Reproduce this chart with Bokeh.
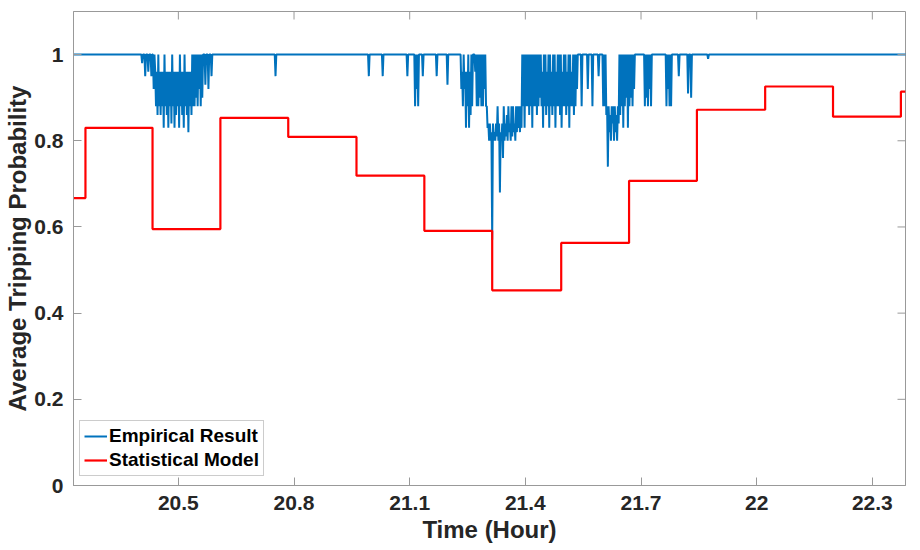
import numpy as np
from bokeh.plotting import figure
from bokeh.models import FixedTicker, Range1d, Legend, LegendItem
from bokeh.embed import file_html
from bokeh.resources import INLINE

# ---------------- data ----------------
x_ticks = [20.5, 20.8, 21.1, 21.4, 21.7, 22.0, 22.3]
x_tick_labels = ["20.5", "20.8", "21.1", "21.4", "21.7", "22", "22.3"]
y_ticks = [0.0, 0.2, 0.4, 0.6, 0.8, 1.0]
y_tick_labels = ["0", "0.2", "0.4", "0.6", "0.8", "1"]
x_min, x_max = 20.228, 22.386
y_min, y_max = 0.0, 1.1

# statistical model: piecewise-constant levels (start time of each step, level)
model_t = [20.228, 20.259, 20.433, 20.609, 20.785, 20.962, 21.138, 21.314,
           21.493, 21.669, 21.845, 22.022, 22.198, 22.374, 22.386]
model_v = [0.667, 0.830, 0.595, 0.853, 0.809, 0.719, 0.591, 0.453,
           0.563, 0.707, 0.872, 0.926, 0.856, 0.914, 0.914]

# empirical result: sampled series (baseline 1 with dips).
# dense stretches are given per 0.004 h bin as (high, low) pairs
emp_t0, emp_t1, emp_dt = 20.228, 22.388, 0.002
emp_base = 1.0

emp_a_start = 20.440
emp_a_hi = [0.96, 0.96, 1.00, 0.96, 0.96, 0.96, 1.00, 0.96, 0.96, 0.96,
            0.96, 1.00, 0.96, 0.96, 0.96, 0.96, 1.00, 0.96, 0.96, 1.00,
            0.96, 0.96, 0.96, 0.96, 1.00, 1.00, 1.00, 1.00, 1.00, 1.00]
emp_a_lo = [0.88, 0.86, 0.88, 0.86, 0.88, 0.83, 0.88, 0.86, 0.83, 0.88,
            0.84, 0.88, 0.83, 0.86, 0.88, 0.83, 0.88, 0.86, 0.83, 0.88,
            0.86, 0.82, 0.88, 0.86, 0.88, 0.88, 0.90, 0.88, 0.92, 0.88]

emp_c_start = 21.232
emp_c_hi = [1.00, 0.96, 1.00, 0.96, 0.96, 1.00, 0.96, 1.00,
            1.00, 1.00,
            1.00, 1.00, 1.00, 1.00, 1.00, 1.00, 1.00,
            0.88, 0.84, 0.84,
            0.82,
            0.84, 0.82, 0.84, 0.88, 0.84, 0.82, 0.84, 0.88, 0.84, 0.86,
            0.88, 0.84, 0.88, 0.88, 0.84, 0.88, 0.88, 0.88, 0.88,
            1.00, 1.00, 1.00, 1.00, 1.00, 1.00, 1.00, 1.00, 1.00, 1.00,
            1.00, 1.00,
            1.00, 0.96, 1.00, 1.00, 0.96, 1.00, 1.00, 0.96, 1.00, 1.00,
            0.96, 1.00, 1.00, 1.00, 0.96, 1.00, 1.00, 0.96, 1.00, 1.00,
            0.96, 1.00, 1.00, 1.00,
            1.00, 1.00, 1.00, 1.00, 1.00, 1.00, 1.00, 1.00, 1.00, 1.00,
            1.00, 1.00, 1.00, 1.00, 1.00, 1.00, 1.00, 1.00, 1.00,
            0.88, 0.88, 0.86, 0.88, 0.88, 0.88, 0.86, 0.88, 1.00,
            1.00, 1.00, 1.00, 1.00, 1.00, 1.00, 1.00, 1.00, 1.00, 1.00,
            1.00]
emp_c_lo = [0.92, 0.88, 0.92, 0.83, 0.88, 0.83, 0.86, 0.88,
            1.00, 0.96,
            0.88, 0.88, 0.90, 0.88, 0.88, 0.92, 0.88,
            0.83, 0.80, 0.80,
            0.57,
            0.80, 0.80, 0.81, 0.80, 0.68, 0.80, 0.76, 0.80, 0.81, 0.80,
            0.82, 0.80, 0.81, 0.82, 0.80, 0.82, 0.83, 0.82, 0.83,
            0.88, 0.83, 0.88, 0.88, 0.86, 0.88, 0.83, 0.88, 0.88, 0.86,
            0.88, 0.90,
            0.88, 0.83, 0.88, 0.86, 0.88, 0.83, 0.88, 0.86, 0.88, 0.83,
            0.88, 0.88, 0.86, 0.83, 0.88, 0.88, 0.86, 0.88, 0.83, 0.88,
            0.88, 0.86, 0.88, 0.92,
            1.00, 1.00, 0.88, 1.00, 1.00, 1.00, 0.92, 1.00, 1.00, 0.88,
            1.00, 1.00, 1.00, 0.95, 1.00, 1.00, 0.88, 0.88, 0.86,
            0.74, 0.82, 0.80, 0.84, 0.80, 0.82, 0.80, 0.84, 0.86,
            0.88, 0.83, 0.88, 0.90, 0.83, 0.88, 0.90, 0.88, 0.92, 1.00,
            1.00]

emp_spike_t = [20.406, 20.414, 20.422, 20.430, 20.436,
               20.562, 20.570, 20.578, 20.586,
               20.752,
               20.994, 21.030, 21.094, 21.114, 21.118, 21.122, 21.134,
               21.170, 21.198,
               21.710, 21.714, 21.718, 21.722, 21.726, 21.766, 21.770,
               21.774, 21.778, 21.798, 21.822, 21.830, 21.874]
emp_spike_v = [0.98, 0.95, 0.96, 0.95, 0.92,
               0.90, 0.93, 0.92, 0.95,
               0.95,
               0.95, 0.95, 0.95, 0.88, 0.92, 0.88, 0.95,
               0.95, 0.93,
               0.88, 0.90, 0.88, 0.92, 0.88, 0.88, 0.92,
               0.88, 0.88, 0.95, 0.91, 0.90, 0.99]

# assemble the empirical series on its sampling grid
n = int(round((emp_t1 - emp_t0) / emp_dt)) + 1
emp_t = emp_t0 + emp_dt * np.arange(n)
emp_v = np.full(n, emp_base)


def put(t, vals):
    k = int(round((t - emp_t0) / emp_dt))
    emp_v[k:k + len(vals)] = vals


def put_pairs(t, hi, lo):
    put(t, [v for pair in zip(hi, lo) for v in pair])


put_pairs(emp_a_start, emp_a_hi, emp_a_lo)
put_pairs(emp_c_start, emp_c_hi, emp_c_lo)
for t, v in zip(emp_spike_t, emp_spike_v):
    put(t, [v])

# ---------------- figure ----------------
FONT = "Liberation Sans"
AX_COL = "#999999"
TXT_COL = "#262626"

p = figure(width=920, height=550,
           x_range=Range1d(x_min, x_max), y_range=Range1d(y_min, y_max),
           output_backend="svg", toolbar_location=None,
           min_border_left=73, min_border_right=15,
           min_border_top=11, min_border_bottom=65)
p.xgrid.visible = False
p.ygrid.visible = False
p.outline_line_color = AX_COL
p.background_fill_color = "white"
p.border_fill_color = "white"

r_blue = p.line(emp_t, emp_v, line_color="#0072BD", line_width=2)
r_red = p.step(model_t, model_v, mode="after", line_color="#FF0000", line_width=2.2)

# inward tick marks on the top and right edges of the box (clipped to the frame)
p.scatter(x_ticks, [y_max] * len(x_ticks), marker="dash", angle=np.pi / 2,
          size=16, line_color=AX_COL, line_width=1)
p.scatter([x_max] * len(y_ticks), y_ticks, marker="dash",
          size=16, line_color=AX_COL, line_width=1)


def style(ax):
    ax.axis_line_color = AX_COL
    ax.major_tick_line_color = AX_COL
    ax.major_tick_in = 8
    ax.major_tick_out = 0
    ax.minor_tick_line_color = None
    ax.major_label_text_font = FONT
    ax.major_label_text_font_style = "bold"
    ax.major_label_text_font_size = "21px"
    ax.major_label_text_color = TXT_COL
    ax.axis_label_text_font = FONT
    ax.axis_label_text_font_style = "bold"
    ax.axis_label_text_font_size = "24px"
    ax.axis_label_text_color = TXT_COL


xa = p.xaxis[0]
xa.ticker = FixedTicker(ticks=x_ticks)
xa.major_label_overrides = {t: s for t, s in zip(x_ticks, x_tick_labels)}
xa.axis_label = "Time (Hour)"
style(xa)
xa.major_label_standoff = 10
xa.axis_label_standoff = 3

ya = p.yaxis[0]
ya.ticker = FixedTicker(ticks=y_ticks)
ya.major_label_overrides = {t: s for t, s in zip(y_ticks, y_tick_labels)}
ya.axis_label = "Average Tripping Probability"
style(ya)
ya.major_label_standoff = 10
ya.axis_label_standoff = 0

legend = Legend(items=[LegendItem(label="Empirical Result", renderers=[r_blue]),
                       LegendItem(label="Statistical Model", renderers=[r_red])],
                location=(6, 9))
legend.label_text_font = FONT
legend.label_text_font_style = "bold"
legend.label_text_font_size = "19px"
legend.label_text_color = "black"
legend.glyph_width = 23
legend.glyph_height = 22
legend.label_height = 22
legend.label_standoff = 2
legend.spacing = 2
legend.padding = 4
legend.margin = 0
legend.border_line_color = AX_COL
legend.background_fill_color = "white"
legend.background_fill_alpha = 1.0
p.add_layout(legend)

open("out.html", "w").write(file_html(p, INLINE))
